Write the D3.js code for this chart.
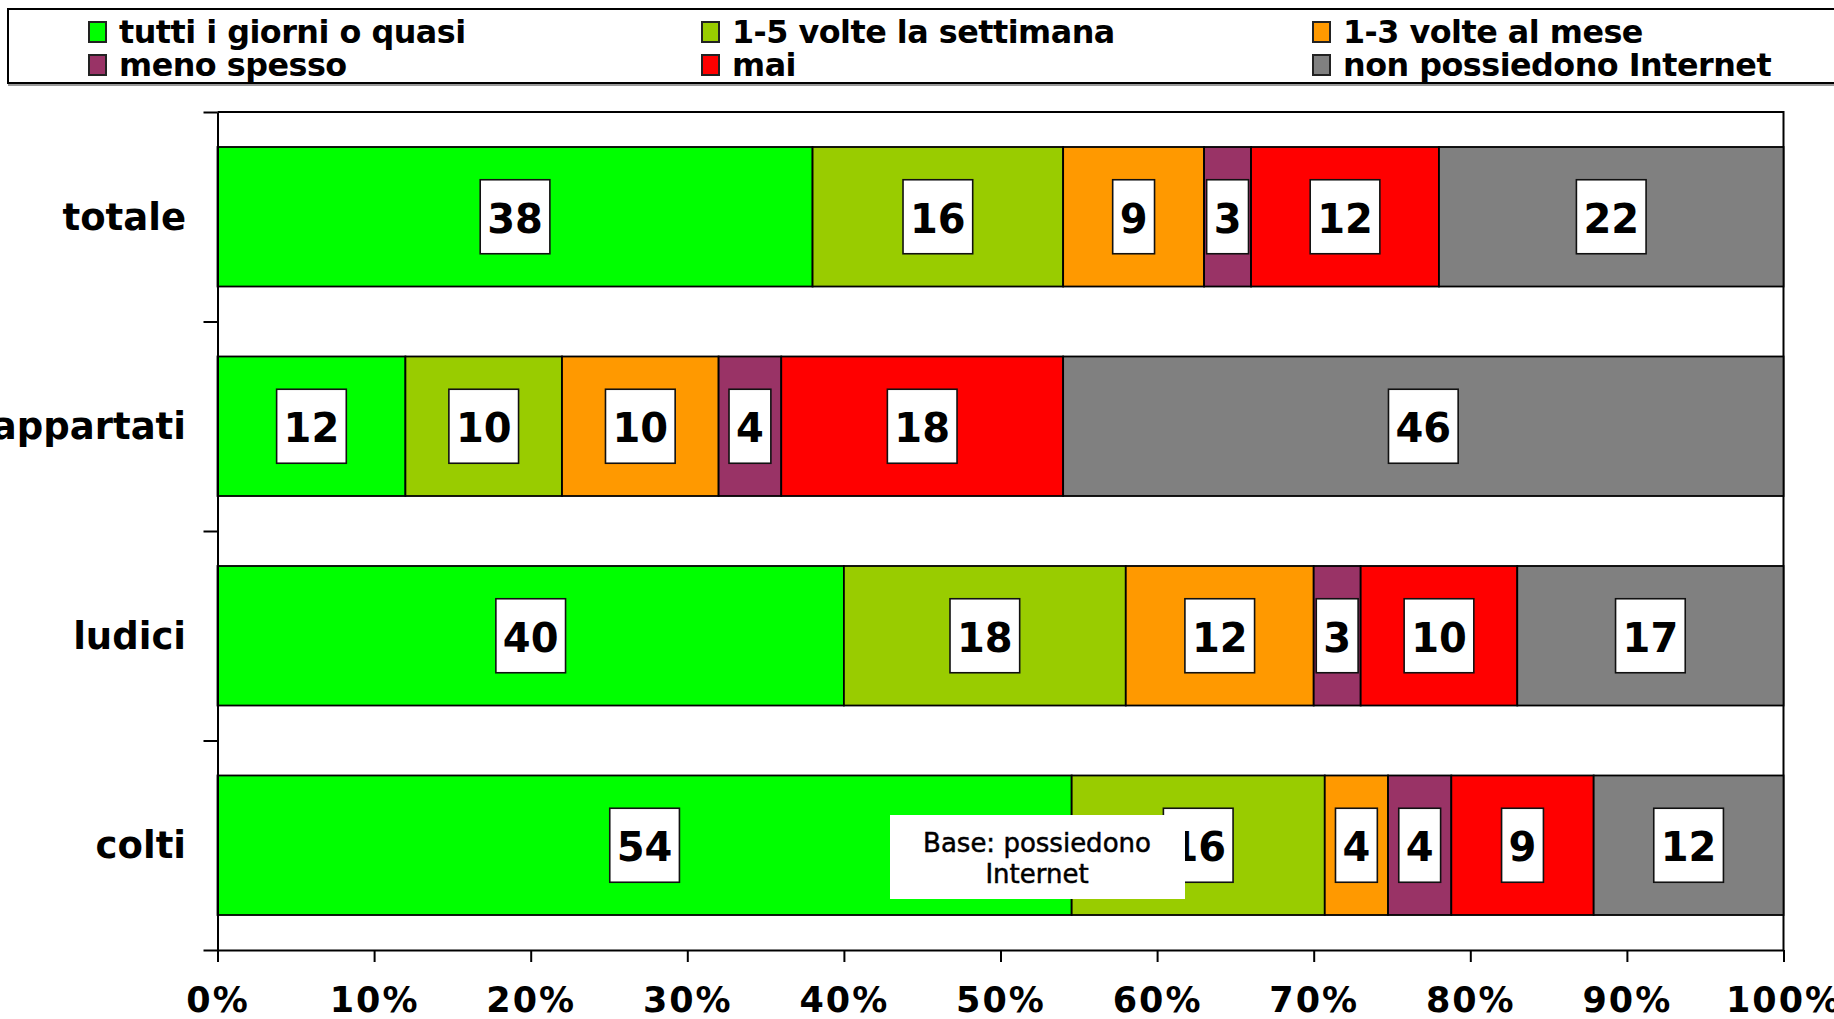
<!DOCTYPE html>
<html>
<head>
<meta charset="utf-8">
<script src="https://cdn.jsdelivr.net/npm/d3@7"></script>
<style>
  html, body { margin: 0; padding: 0; background: #fff; overflow: hidden; }
  svg { display: block; }
  text { font-family: "DejaVu Sans", Verdana, sans-serif; }
</style>
</head>
<body>
<svg id="chart" width="1834" height="1019"></svg>
<script>
// Categories (top to bottom) and the answer series
const categories = ["totale", "appartati", "ludici", "colti"];
const seriesNames = [
  "tutti i giorni o quasi",
  "1-5 volte la settimana",
  "1-3 volte al mese",
  "meno spesso",
  "mai",
  "non possiedono Internet"
];
const seriesColors = ["#00FF00", "#99CC00", "#FF9900", "#993366", "#FF0000", "#808080"];

// Percentages per category, in series order
const totale    = [38, 16, 9, 3, 12, 22];
const appartati = [12, 10, 10, 4, 18, 46];
const ludici    = [40, 18, 12, 3, 10, 17];
const colti     = [54, 16, 4, 4, 9, 12];

const xTickValues = [0, 0.1, 0.2, 0.3, 0.4, 0.5, 0.6, 0.7, 0.8, 0.9, 1];
const noteLines = ["Base: possiedono", "Internet"];

const rows = [totale, appartati, ludici, colti];
const keys = seriesNames.map((_, i) => "s" + i);
const table = categories.map((c, ci) => {
  const o = { category: c };
  keys.forEach((k, i) => { o[k] = rows[ci][i]; });
  return o;
});

const svg = d3.select("#chart");

const margin = { left: 217.5, right: 1834 - 1783.5, top: 112, bottom: 1019 - 950 };
const W = 1834, H = 1019;
const x = d3.scaleLinear().domain([0, 1]).range([margin.left, W - margin.right]);
const y = d3.scaleBand().domain(categories)
  .range([margin.top, H - margin.bottom])
  .paddingInner(0.334).paddingOuter(0.167);
const yEdge = d3.scaleLinear().domain([0, categories.length])
  .range([margin.top, H - margin.bottom]);
const color = d3.scaleOrdinal().domain(keys).range(seriesColors);

// 100% stacked layout
const stacked = d3.stack().keys(keys).offset(d3.stackOffsetExpand)(table);

// Plot frame: top and right edges
svg.append("path")
  .attr("d", `M${x(0)},${yEdge(0)}H${x(1)}V${yEdge(categories.length)}`)
  .attr("fill", "none").attr("stroke", "#000").attr("stroke-width", 2);

// Bars
const layer = svg.append("g").selectAll("g").data(stacked).join("g")
  .attr("fill", d => color(d.key));
layer.selectAll("rect").data(d => d.map(p => ({ p, key: d.key }))).join("rect")
  .attr("x", d => x(d.p[0]))
  .attr("y", d => y(d.p.data.category))
  .attr("width", d => x(d.p[1]) - x(d.p[0]))
  .attr("height", y.bandwidth())
  .attr("stroke", "#000").attr("stroke-width", 1.8);

// Value labels in white boxes
const labelSize = 40;
const labels = [];
stacked.forEach(s => s.forEach(p => {
  labels.push({ v: p.data[s.key], cx: (x(p[0]) + x(p[1])) / 2,
                cy: y(p.data.category) + y.bandwidth() / 2 });
}));
const lab = svg.append("g").selectAll("g").data(labels).join("g");
lab.append("text")
  .attr("x", d => d.cx).attr("y", d => d.cy + 16)
  .attr("text-anchor", "middle")
  .attr("font-size", labelSize).attr("font-weight", "bold").attr("fill", "#000")
  .text(d => d.v)
  .each(function (d) { d.w = this.getComputedTextLength(); });
lab.insert("rect", "text")
  .attr("x", d => d.cx - d.w / 2 - 7)
  .attr("y", d => d.cy - 37)
  .attr("width", d => d.w + 14)
  .attr("height", 74)
  .attr("fill", "#fff").attr("stroke", "#111").attr("stroke-width", 1.6);

// Left axis: ticks on category boundaries
const yAxis = svg.append("g").attr("transform", `translate(${x(0)},0)`)
  .call(d3.axisLeft(yEdge).tickValues(d3.range(categories.length + 1))
    .tickFormat("").tickSize(14).tickSizeOuter(0));
yAxis.selectAll("path, line").attr("stroke", "#000").attr("stroke-width", 2);

// Category labels
svg.append("g").selectAll("text").data(categories).join("text")
  .attr("x", 186)
  .attr("y", d => y(d) + y.bandwidth() / 2 + 13)
  .attr("text-anchor", "end")
  .attr("font-size", 37).attr("font-weight", "bold").attr("fill", "#000")
  .text(d => d);

// Bottom axis
const xAxis = svg.append("g").attr("transform", `translate(0,${yEdge(categories.length)})`)
  .call(d3.axisBottom(x).tickValues(xTickValues).tickFormat(d3.format(".0%"))
    .tickSize(12).tickSizeOuter(0).tickPadding(25));
xAxis.selectAll("path, line").attr("stroke", "#000").attr("stroke-width", 2);
xAxis.selectAll("text")
  .attr("font-family", "'DejaVu Sans', Verdana, sans-serif")
  .attr("font-size", 35).attr("font-weight", "bold").attr("fill", "#000")
  .attr("letter-spacing", 2);

// Note box
const note = svg.append("g");
note.append("rect").attr("x", 890).attr("y", 815).attr("width", 295).attr("height", 84)
  .attr("fill", "#fff");
note.selectAll("text").data(noteLines).join("text")
  .attr("x", 1037).attr("y", (d, i) => 852 + i * 31)
  .attr("text-anchor", "middle")
  .attr("font-size", 26).attr("fill", "#000")
  .attr("stroke", "#000").attr("stroke-width", 0.5)
  .text(d => d);

// Legend
const legend = svg.append("g");
legend.append("rect").attr("x", 8).attr("y", 9).attr("width", 1840).attr("height", 74)
  .attr("fill", "#fff").attr("stroke", "#000").attr("stroke-width", 2);
legend.append("line").attr("x1", 8).attr("x2", 1834).attr("y1", 85).attr("y2", 85)
  .attr("stroke", "#999").attr("stroke-width", 2);
const colX = [89, 702, 1313];
const rowBase = [43, 76];
const item = legend.selectAll("g.item").data(seriesNames).join("g").attr("class", "item")
  .attr("transform", (d, i) => `translate(${colX[i % 3]},${rowBase[Math.floor(i / 3)]})`);
item.append("rect").attr("x", 0).attr("y", -21).attr("width", 17).attr("height", 20)
  .attr("fill", (d, i) => seriesColors[i]).attr("stroke", "#222").attr("stroke-width", 2);
item.append("text").attr("x", 30).attr("y", 0)
  .attr("font-size", 31.8).attr("font-weight", "bold").attr("fill", "#000")
  .attr("letter-spacing", -0.5)
  .text(d => d);
</script>
</body>
</html>
